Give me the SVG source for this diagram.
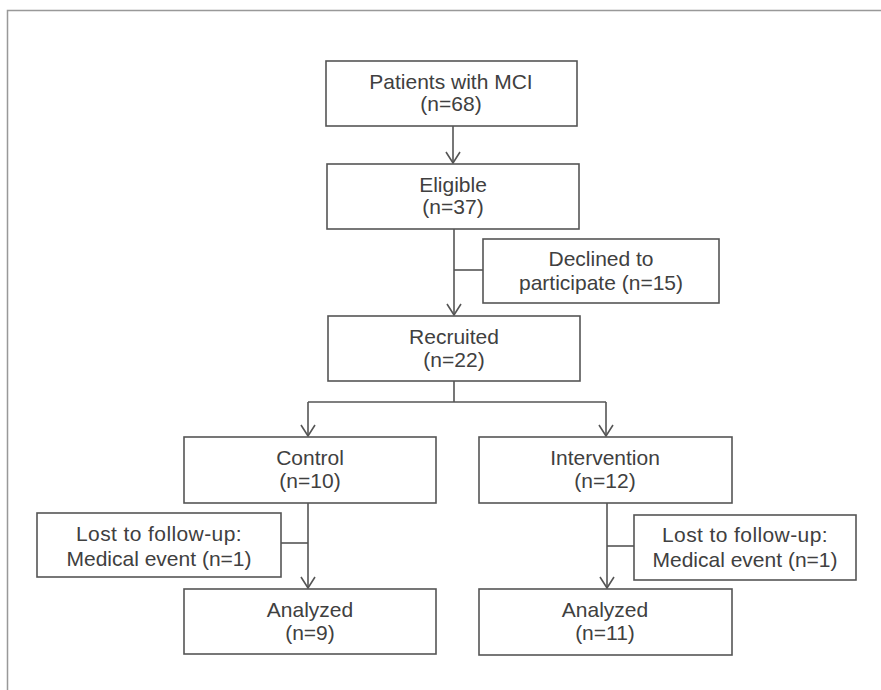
<svg xmlns="http://www.w3.org/2000/svg" width="881" height="690" viewBox="0 0 881 690">
<style>
.box{fill:#fff;stroke:#555;stroke-width:1.6}
.t{font-family:"Liberation Sans",Arial,sans-serif;font-size:21px;fill:#404040;text-anchor:middle}
.c{fill:none;stroke:#555;stroke-width:1.6}
</style>
<defs>
<marker id="v" markerUnits="userSpaceOnUse" viewBox="-13 -9 15 18" refX="0" refY="0" markerWidth="15" markerHeight="18" orient="auto">
<path d="M-11,-7 L0,0 L-11,7" fill="none" stroke="#555" stroke-width="1.6"/>
</marker>
</defs>
<rect width="881" height="690" fill="#fff"/>
<path d="M7.5,690 V10.5 H881" fill="none" stroke="#999" stroke-width="1.5"/>
<g id="connectors">
<path class="c" d="M453,126 V163" marker-end="url(#v)"/>
<path class="c" d="M454,229 V315" marker-end="url(#v)"/>
<path class="c" d="M454,270 H483"/>
<path class="c" d="M454,381 V402 M308,402 H606"/>
<path class="c" d="M308,402 V436" marker-end="url(#v)"/>
<path class="c" d="M606,402 V436" marker-end="url(#v)"/>
<path class="c" d="M308,503 V588" marker-end="url(#v)"/>
<path class="c" d="M281,543 H308"/>
<path class="c" d="M607,503 V588" marker-end="url(#v)"/>
<path class="c" d="M607,546 H634"/>
</g>
<g id="patients">
<rect class="box" x="326" y="61" width="251" height="65"/>
<text class="t" x="451" y="89">Patients with MCI</text>
<text class="t" x="451" y="111">(n=68)</text>
</g>
<g id="eligible">
<rect class="box" x="327" y="164" width="252" height="65"/>
<text class="t" x="453" y="192">Eligible</text>
<text class="t" x="453" y="214">(n=37)</text>
</g>
<g id="declined">
<rect class="box" x="483" y="239" width="236" height="64"/>
<text class="t" x="601" y="266">Declined to</text>
<text class="t" x="601" y="290">participate (n=15)</text>
</g>
<g id="recruited">
<rect class="box" x="328" y="316" width="252" height="65"/>
<text class="t" x="454" y="344">Recruited</text>
<text class="t" x="454" y="367">(n=22)</text>
</g>
<g id="control">
<rect class="box" x="184" y="437" width="252" height="66"/>
<text class="t" x="310" y="465">Control</text>
<text class="t" x="310" y="488">(n=10)</text>
</g>
<g id="intervention">
<rect class="box" x="479" y="437" width="253" height="66"/>
<text class="t" x="605" y="465">Intervention</text>
<text class="t" x="605" y="488">(n=12)</text>
</g>
<g id="lost-control">
<rect class="box" x="37" y="513" width="244" height="64"/>
<text class="t" x="159" y="541" letter-spacing="0.4">Lost to follow-up:</text>
<text class="t" x="159" y="566">Medical event (n=1)</text>
</g>
<g id="lost-intervention">
<rect class="box" x="634" y="515" width="222" height="65"/>
<text class="t" x="745" y="542" letter-spacing="0.4">Lost to follow-up:</text>
<text class="t" x="745" y="567">Medical event (n=1)</text>
</g>
<g id="analyzed-control">
<rect class="box" x="184" y="589" width="252" height="65"/>
<text class="t" x="310" y="617">Analyzed</text>
<text class="t" x="310" y="640">(n=9)</text>
</g>
<g id="analyzed-intervention">
<rect class="box" x="479" y="589" width="253" height="66"/>
<text class="t" x="605" y="617">Analyzed</text>
<text class="t" x="605" y="640">(n=11)</text>
</g>
</svg>
